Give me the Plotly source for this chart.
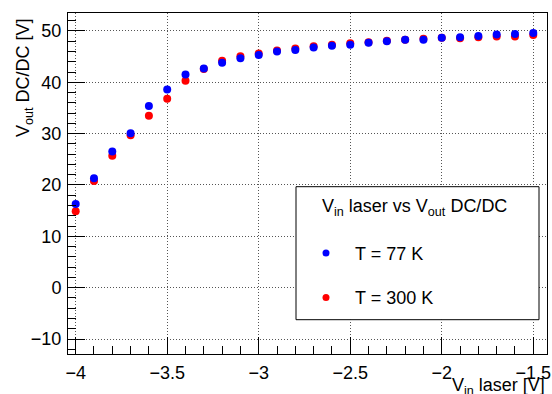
import plotly.graph_objects as go

vin = [-4.0, -3.9, -3.8, -3.7, -3.6, -3.5, -3.4, -3.3, -3.2, -3.1, -3.0, -2.9, -2.8,
       -2.7, -2.6, -2.5, -2.4, -2.3, -2.2, -2.1, -2.0, -1.9, -1.8, -1.7, -1.6, -1.5]
vout_77K = [16.3, 21.3, 26.5, 30.1, 35.4, 38.6, 41.5, 42.7, 43.8, 44.7, 45.3, 46.0, 46.3,
            46.8, 47.1, 47.3, 47.7, 48.0, 48.3, 48.3, 48.7, 48.8, 49.0, 49.3, 49.4, 49.6]
vout_300K = [14.9, 20.8, 25.7, 29.7, 33.5, 36.8, 40.3, 42.6, 44.2, 45.1, 45.6, 46.2, 46.6,
             47.0, 47.3, 47.6, 47.8, 48.1, 48.3, 48.5, 48.7, 48.6, 48.8, 48.9, 48.9, 49.2]

series_names = ["T = 77 K", "T = 300 K"]
series_colors = ["#0000ff", "#ff0000"]
legend_title = "V<sub>in</sub> laser vs V<sub>out</sub> DC/DC"
x_title = "V<sub>in</sub> laser [V]"
y_title = "V<sub>out</sub> DC/DC [V]"

FONT = "Liberation Sans, Arial, Helvetica, sans-serif"

fig = go.Figure()
# red drawn first so blue sits on top
fig.add_trace(go.Scatter(x=vin, y=vout_300K, mode="markers", name=series_names[1],
                         marker=dict(color=series_colors[1], size=8, line=dict(width=0)),
                         showlegend=False))
fig.add_trace(go.Scatter(x=vin, y=vout_77K, mode="markers", name=series_names[0],
                         marker=dict(color=series_colors[0], size=8, line=dict(width=0)),
                         showlegend=False))

axis_common = dict(
    showline=True, linecolor="black", linewidth=1, mirror=True,
    ticks="inside", ticklen=17, tickwidth=1, tickcolor="black",
    showgrid=True, gridcolor="#555", griddash="1px,2px", gridwidth=1,
    zeroline=False, automargin=False,
    tickfont=dict(family=FONT, size=18, color="black"),
)

fig.update_xaxes(range=[-4.042, -1.425], tick0=-4, dtick=0.5,
                 minor=dict(ticks="inside", ticklen=8, dtick=0.1, tick0=-4, tickcolor="black", showgrid=False),
                 ticklabelstandoff=2, **axis_common)
fig.update_yaxes(range=[-12.92, 53.5], tick0=0, dtick=10,
                 minor=dict(ticks="inside", ticklen=8, dtick=2, tick0=0, tickcolor="black", showgrid=False),
                 ticklabelstandoff=2, **axis_common)

W, H = 552, 394
L, R, T, B = 68, 5, 13, 40
pw, ph = W - L - R, H - T - B

def px(x):
    return (x - L) / pw

def py(y):
    return 1 - (y - T) / ph

shapes = [
    dict(type="rect", xref="paper", yref="paper", x0=px(296), x1=px(539), y0=py(319.7), y1=py(186.7),
         line=dict(color="black", width=1), fillcolor="white", layer="above"),
]
for i, yy in enumerate([253, 297.6]):
    shapes.append(dict(type="circle", xref="paper", yref="paper", xsizemode="pixel", ysizemode="pixel",
                       xanchor=px(326), yanchor=py(yy), x0=-3.5, x1=3.5, y0=-3.5, y1=3.5,
                       fillcolor=series_colors[i], line=dict(width=0), layer="above"))

annotations = [
    dict(text=legend_title, xref="paper", yref="paper", x=px(414.6), y=py(207.5), xanchor="center", yanchor="middle",
         showarrow=False, font=dict(family=FONT, size=18, color="black")),
    dict(text=series_names[0], xref="paper", yref="paper", x=px(353), y=py(254), xanchor="left", yanchor="middle",
         showarrow=False, font=dict(family=FONT, size=18, color="black")),
    dict(text=series_names[1], xref="paper", yref="paper", x=px(353), y=py(297.5), xanchor="left", yanchor="middle",
         showarrow=False, font=dict(family=FONT, size=18, color="black")),
    dict(text=x_title, xref="paper", yref="paper", x=1.0, y=py(387), xanchor="right", yanchor="middle",
         showarrow=False, font=dict(family=FONT, size=18, color="black")),
    dict(text=y_title, xref="paper", yref="paper", x=px(24), y=py(78), xanchor="center", yanchor="middle",
         textangle=-90, showarrow=False, font=dict(family=FONT, size=18, color="black")),
]

fig.update_layout(
    width=W, height=H,
    margin=dict(l=L, r=R, t=T, b=B, pad=0),
    paper_bgcolor="white", plot_bgcolor="white",
    font=dict(family=FONT, size=18, color="black"),
    shapes=shapes, annotations=annotations,
    showlegend=False,
)

fig.write_html("out.html", config={"displayModeBar": False},
               post_script="document.body.style.margin='0';document.body.style.overflow='hidden';")
